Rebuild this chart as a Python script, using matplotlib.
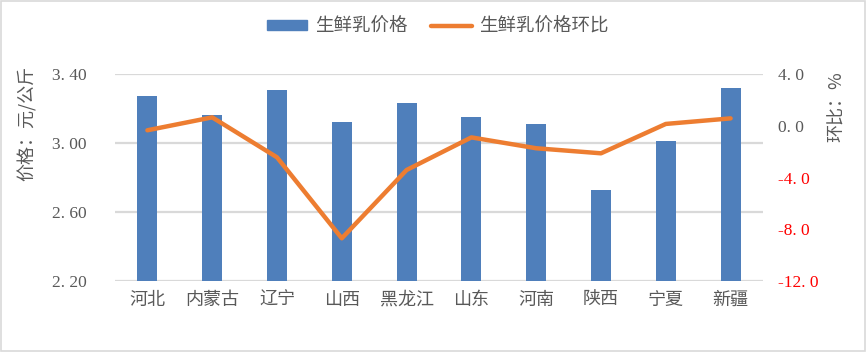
import matplotlib
matplotlib.use("Agg")
import matplotlib.pyplot as plt
from matplotlib.patches import Rectangle
from matplotlib.lines import Line2D

plt.rcParams['font.family'] = ['Noto Sans CJK SC', 'DejaVu Sans']

categories = ['河北', '内蒙古', '辽宁', '山西', '黑龙江', '山东', '河南', '陕西', '宁夏', '新疆']
price = [3.27, 3.16, 3.31, 3.12, 3.23, 3.15, 3.11, 2.73, 3.01, 3.32]
mom = [-0.35, 0.65, -2.44, -8.7, -3.42, -0.9, -1.74, -2.13, 0.14, 0.57]
left_ticks = [2.20, 2.60, 3.00, 3.40]
left_labels = ['2. 20', '2. 60', '3. 00', '3. 40']
right_ticks = [-12.0, -8.0, -4.0, 0.0, 4.0]
right_labels = ['-12. 0', '-8. 0', '-4. 0', '0. 0', '4. 0']

bar_color = '#4F7FBB'
line_color = '#ED7D31'
grid_color = '#D9D9D9'
text_color = '#595959'

fig = plt.figure(figsize=(8.67, 3.52), dpi=100)
ax = fig.add_axes([115/867, 1-281/352, (763-115)/867, (281-74)/352])
x = list(range(len(categories)))
ax.bar(x, price, width=0.31, color=bar_color, zorder=2)
ax.set_ylim(2.20, 3.40)
ax.set_xlim(-0.5, len(categories)-0.5)
ax.set_yticks(left_ticks)
ax.set_yticklabels(left_labels, family=['Liberation Serif', 'DejaVu Serif'], fontsize=12.5, color=text_color)
ax.set_xticks(x)
ax.set_xticklabels(categories, fontsize=13, color=text_color)
ax.tick_params(axis='both', length=0)
ax.tick_params(axis='y', pad=45)
ax.tick_params(axis='x', pad=7)
for lab in ax.get_yticklabels():
    lab.set_horizontalalignment('left')
for s in ax.spines.values():
    s.set_visible(False)
ax.yaxis.grid(True, color=grid_color, linewidth=1.6, zorder=0)
ax.set_axisbelow(True)
ax.set_ylabel('价格：元/公斤', fontsize=13, color=text_color)
ax.yaxis.set_label_coords(-0.120, 0.76)

ax2 = ax.twinx()
ax2.plot(x, mom, color=line_color, linewidth=3.2, solid_capstyle='round', solid_joinstyle='round', zorder=3)
ax2.set_ylim(-12.0, 4.0)
ax2.set_yticks(right_ticks)
ax2.set_yticklabels(right_labels, family=['Liberation Serif', 'DejaVu Serif'], fontsize=12.5)
for lab, v in zip(ax2.get_yticklabels(), right_ticks):
    lab.set_color('red' if v < 0 else text_color)
ax2.tick_params(axis='y', length=0, pad=11)
for s in ax2.spines.values():
    s.set_visible(False)
ax2.set_ylabel('环比：%', fontsize=13, color=text_color, rotation=90)
ax2.yaxis.set_label_coords(1.1, 0.84)

handles = [Rectangle((0, 0), 1, 1, color=bar_color),
           Line2D([0], [0], color=line_color, linewidth=3.2, solid_capstyle='round')]
fig.legend(handles, ['生鲜乳价格', '生鲜乳价格环比'], loc='center', bbox_to_anchor=(0.505, 1-27/352),
           ncol=2, frameon=False, fontsize=13.3, handlelength=2.2, handleheight=0.45,
           columnspacing=1.3, handletextpad=0.4, labelcolor=text_color)

fig.add_artist(Rectangle((0.001, 0.002), 0.997, 0.995, transform=fig.transFigure,
                         fill=False, edgecolor='#D9D9D9', linewidth=1.2))

fig.savefig('out.png', dpi=100)
